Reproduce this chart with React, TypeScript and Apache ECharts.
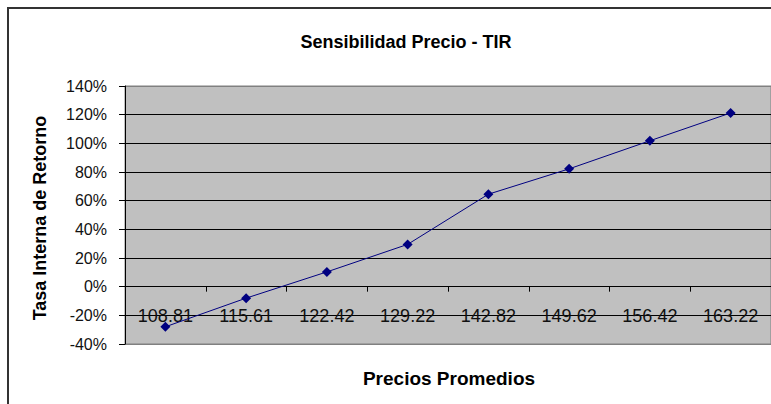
import React, { useEffect, useRef } from "react";
import * as echarts from "echarts";

const categories = ["108.81", "115.61", "122.42", "129.22", "142.82", "149.62", "156.42", "163.22"];
const tirValues = [-0.28, -0.08, 0.103, 0.295, 0.645, 0.822, 1.018, 1.212];
const titleText = "Sensibilidad Precio - TIR";
const xTitle = "Precios Promedios";
const yTitle = "Tasa Interna de Retorno";

const Y_MIN = -0.4;
const Y_MAX = 1.4;
const GRID_TOP = 86;
const GRID_HEIGHT = 258;

export default function App() {
  const ref = useRef<HTMLDivElement>(null);
  useEffect(() => {
    if (!ref.current) return;
    const chart = echarts.init(ref.current, null, { renderer: "svg" });
    const splitColors = ["#808080", "#000", "#000", "#000", "#000", "#000", "#000", "#000", "#000", "#808080"];
    const zeroOffset = -(GRID_HEIGHT * (0 - Y_MIN)) / (Y_MAX - Y_MIN);
    chart.setOption({
      animation: false,
      backgroundColor: "#ffffff",
      textStyle: { fontFamily: "Liberation Sans, Arial, sans-serif" },
      title: {
        text: titleText,
        left: 401,
        top: 28,
        textAlign: "center",
        textStyle: { fontSize: 18, fontWeight: "bold", color: "#000", fontFamily: "Liberation Sans, Arial, sans-serif" },
      },
      grid: {
        show: true,
        left: 125,
        top: GRID_TOP,
        width: 653,
        height: GRID_HEIGHT,
        backgroundColor: "#c0c0c0",
        borderColor: "#808080",
        borderWidth: 1,
        containLabel: false,
      },
      xAxis: {
        type: "category",
        data: categories,
        boundaryGap: true,
        offset: zeroOffset,
        axisLine: { show: true, onZero: false, lineStyle: { color: "#000", width: 1 } },
        axisTick: { show: true, inside: false, length: 5, lineStyle: { color: "#000" } },
        axisLabel: { margin: 20, fontSize: 18, color: "#111", fontFamily: "Liberation Sans, Arial, sans-serif" },
        splitLine: { show: false },
      },
      yAxis: {
        type: "value",
        min: Y_MIN,
        max: Y_MAX,
        interval: 0.2,
        axisLine: { show: true, lineStyle: { color: "#000", width: 1 } },
        axisTick: { show: true, inside: false, length: 6, lineStyle: { color: "#000" } },
        axisLabel: {
          margin: 18,
          fontSize: 16,
          color: "#111",
          fontFamily: "Liberation Sans, Arial, sans-serif",
          formatter: (v: number) => Math.round(v * 100) + "%",
        },
        splitLine: { show: true, lineStyle: { color: splitColors, width: 1 } },
      },
      series: [
        {
          type: "line",
          data: tirValues,
          symbol: "diamond",
          symbolSize: 10,
          lineStyle: { color: "#000080", width: 1 },
          itemStyle: { color: "#000080" },
        },
      ],
      graphic: [
        {
          type: "rect",
          shape: { x: 8, y: 8, width: 900, height: 600 },
          style: { fill: "none", stroke: "#333", lineWidth: 2 },
          silent: true,
          z: 100,
        },
        {
          type: "text",
          x: 449,
          y: 378,
          style: {
            text: xTitle,
            fontSize: 19,
            fontWeight: "bold",
            fill: "#000",
            align: "center",
            verticalAlign: "middle",
            fontFamily: "Liberation Sans, Arial, sans-serif",
          },
        },
        {
          type: "text",
          x: 40,
          y: 218,
          rotation: Math.PI / 2,
          style: {
            text: yTitle,
            fontSize: 18,
            fontWeight: "bold",
            fill: "#000",
            align: "center",
            verticalAlign: "middle",
            fontFamily: "Liberation Sans, Arial, sans-serif",
          },
        },
      ],
    });
    return () => chart.dispose();
  }, []);
  return (
    <div
      ref={ref}
      style={{ position: "absolute", left: 0, top: 0, width: 771, height: 404 }}
    />
  );
}
